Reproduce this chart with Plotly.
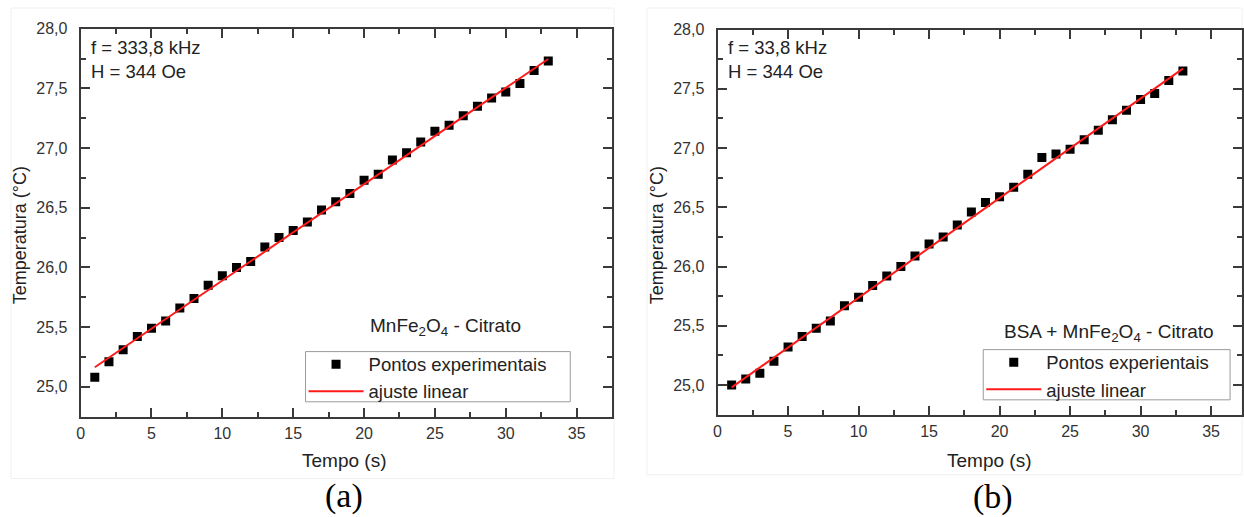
import plotly.graph_objects as go

# Heating curves: time (s) vs temperature (°C)
tempo = list(range(1, 34))

temp_a = [25.08, 25.21, 25.31, 25.42, 25.49, 25.55, 25.66, 25.74, 25.85, 25.93,
          26.00, 26.05, 26.17, 26.25, 26.31, 26.38, 26.48, 26.55, 26.62, 26.73,
          26.78, 26.90, 26.96, 27.05, 27.14, 27.19, 27.27, 27.35, 27.42, 27.47,
          27.54, 27.65, 27.73]

temp_b = [25.00, 25.05, 25.10, 25.20, 25.32, 25.41, 25.48, 25.54, 25.67, 25.74,
          25.84, 25.92, 26.00, 26.09, 26.19, 26.25, 26.35, 26.46, 26.54, 26.59,
          26.67, 26.78, 26.92, 26.95, 26.99, 27.07, 27.15, 27.24, 27.32, 27.41,
          27.46, 27.57, 27.65]

# Linear fit parameters (intercept, slope)
fit_a = (25.083, 0.0807)
fit_b = (24.896, 0.0841)

y_ticks = [25.0, 25.5, 26.0, 26.5, 27.0, 27.5, 28.0]
x_ticks = [0, 5, 10, 15, 20, 25, 30, 35]

W, H = 1244, 517
AX = "#3a3a3a"
RED = "#ff1a1a"
FONT = "Liberation Sans, Arial, sans-serif"
SERIF = "Liberation Serif, Times New Roman, serif"


def px(x):
    return x / W


def py(y):
    return 1 - y / H


fig = go.Figure()

panels = [
    (temp_a, fit_a, "x", "y", "legend", "Pontos experimentais"),
    (temp_b, fit_b, "x2", "y2", "legend2", "Pontos experientais"),
]
for temps, (b0, b1), xa, ya, lg, pts_name in panels:
    fig.add_trace(go.Scatter(
        x=tempo, y=temps, mode="markers", xaxis=xa, yaxis=ya, legend=lg,
        name=pts_name, marker=dict(symbol="square", size=9, color="black"),
    ))
    xf = [tempo[0], tempo[-1]]
    fig.add_trace(go.Scatter(
        x=xf, y=[b0 + b1 * v for v in xf], mode="lines", xaxis=xa, yaxis=ya,
        legend=lg, name="ajuste linear", line=dict(color=RED, width=2),
    ))

common_axis = dict(
    showline=True, linecolor=AX, linewidth=2, mirror="ticks",
    ticks="inside", ticklen=9, tickwidth=2, tickcolor=AX,
    showgrid=False, zeroline=False,
    tickfont=dict(family=FONT, size=16, color="#333333"),
)

xminor = dict(ticks="inside", ticklen=5, tickwidth=2, tickcolor=AX, dtick=2.5, tick0=0)
yminor = dict(ticks="inside", ticklen=5, tickwidth=2, tickcolor=AX, dtick=0.25, tick0=25)

legend_style = dict(xanchor="left", yanchor="top", borderwidth=0,
                    bgcolor="rgba(0,0,0,0)",
                    font=dict(family=FONT, size=18.5, color="#222222"),
                    itemwidth=55, tracegroupgap=0)

fig.update_layout(
    xaxis=dict(domain=[px(77), px(611)], range=[0, 37.5], tickvals=x_ticks,
               anchor="y", minor=xminor, ticklabelstandoff=1, **common_axis),
    yaxis=dict(domain=[py(415), py(21)], range=[24.75, 28.0], tickvals=y_ticks,
               tickformat=".1f", anchor="x", minor=yminor, ticklabelstandoff=8,
               **common_axis),
    xaxis2=dict(domain=[px(717), 1.0], range=[0, (W - 717) / 14.17], tickvals=x_ticks,
                anchor="y2", minor=xminor, ticklabelstandoff=1, **common_axis),
    yaxis2=dict(domain=[py(413), py(22)], range=[24.75, 28.0], tickvals=y_ticks,
                tickformat=".1f", anchor="x2", minor=yminor, ticklabelstandoff=8,
                **common_axis),
    separators=",.",
    width=W, height=H,
    margin=dict(l=0, r=0, t=0, b=0),
    paper_bgcolor="white", plot_bgcolor="white",
    showlegend=True,
    legend=dict(x=px(301), y=py(343), **legend_style),
    legend2=dict(x=px(982), y=py(341), **legend_style),
)

# Legend frames
for x0, x1, y0, y1 in [(303, 569, 349, 400), (984, 1232, 347, 398)]:
    fig.add_shape(type="rect", xref="paper", yref="paper",
                  x0=px(x0), x1=px(x1), y0=py(y1), y1=py(y0),
                  line=dict(color="#9a9a9a", width=1), fillcolor="white", layer="below")


def note(x, y, text, size=18.5, xanchor="left", angle=0, family=FONT, color="#222222"):
    fig.add_annotation(x=px(x), y=py(y), xref="paper", yref="paper", text=text,
                       showarrow=False, xanchor=xanchor, yanchor="middle",
                       textangle=angle, font=dict(family=family, size=size, color=color))


# Panel (a)
note(85, 40, "f = 333,8 kHz")
note(85, 65, "H = 344 Oe")
note(366, 324, "MnFe<sub>2</sub>O<sub>4</sub> - Citrato", size=19)
note(17, 231, "Temperatura (°C)", size=18, xanchor="center", angle=-90)
note(342, 460, "Tempo (s)", size=19, xanchor="center")
note(342, 496, "(a)", size=34, xanchor="center", family=SERIF, color="black")

# Panel (b)
note(725, 40, "f = 33,8 kHz")
note(725, 65, "H = 344 Oe")
note(1003, 330, "BSA + MnFe<sub>2</sub>O<sub>4</sub> - Citrato", size=19)
note(657, 231, "Temperatura (°C)", size=18, xanchor="center", angle=-90)
note(990, 460, "Tempo (s)", size=19, xanchor="center")
note(994, 497, "(b)", size=34, xanchor="center", family=SERIF, color="black")

# Faint frames of the two panels
for x0, x1, y0, y1 in [(7, 613, 0, 478), (646, 1244, 0, 474)]:
    fig.add_shape(type="rect", xref="paper", yref="paper",
                  x0=px(x0), x1=px(x1), y0=py(y1), y1=py(y0),
                  line=dict(color="#f0f0f0", width=1), layer="below")

fig.write_html("out.html")
